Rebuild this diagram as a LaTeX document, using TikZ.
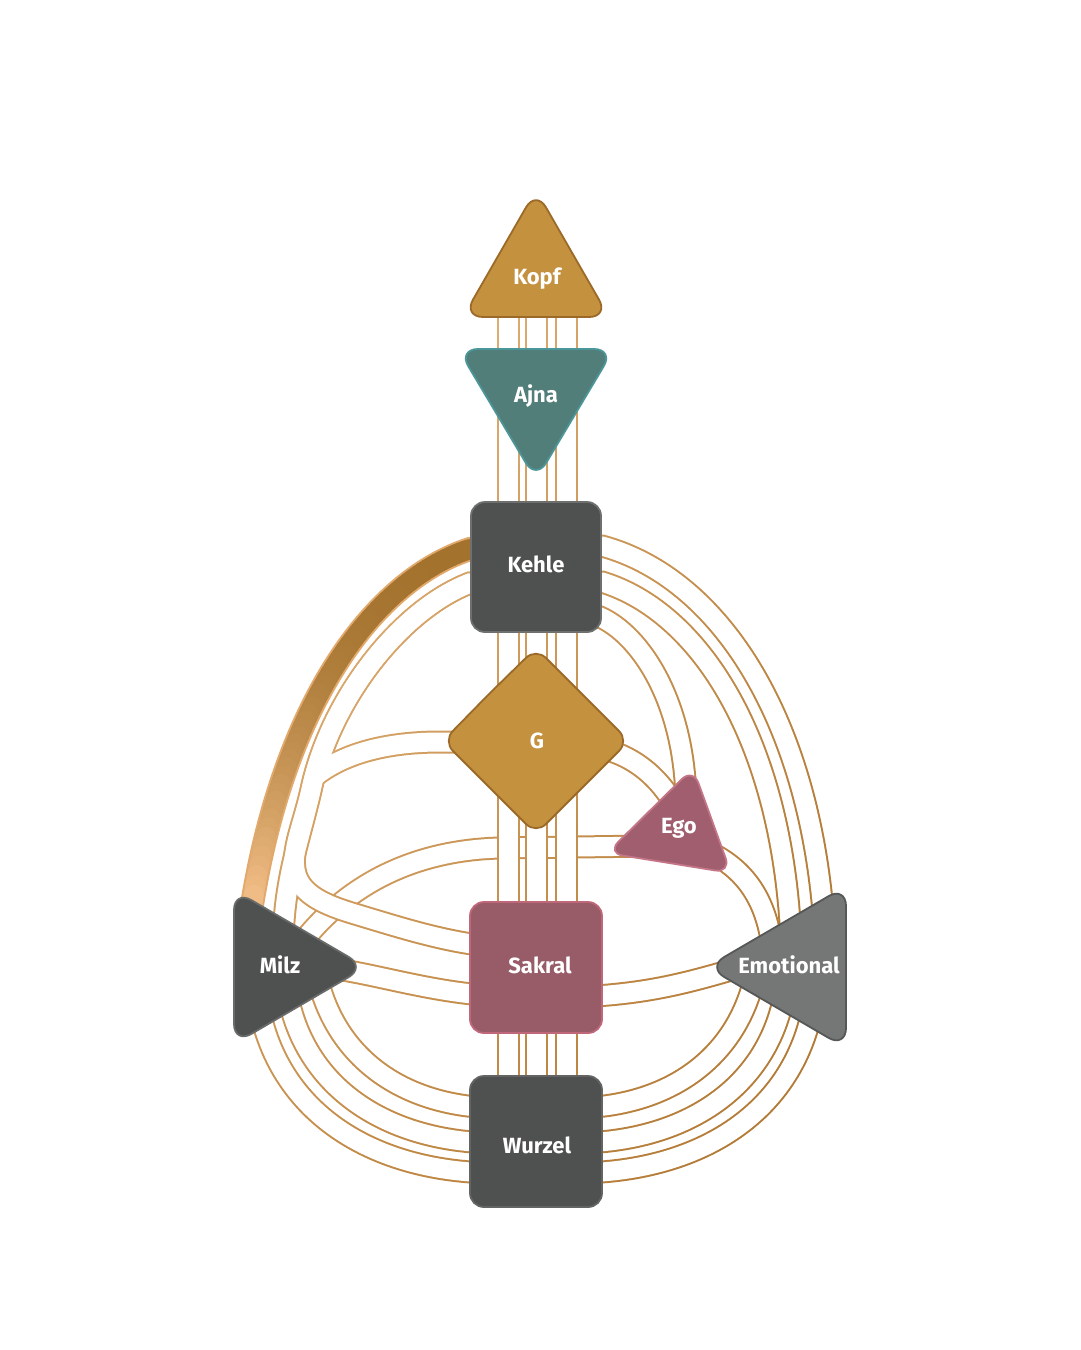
\documentclass[tikz,border=0pt]{standalone}
\usepackage{fontspec}
\usetikzlibrary{shadings}
\setmainfont{Fira Sans}
\definecolor{gUL}{HTML}{F6CB9A}
\definecolor{gUR}{HTML}{BE8642}
\definecolor{gLL}{HTML}{C48C48}
\definecolor{gLR}{HTML}{AC7430}
\definecolor{banddark}{HTML}{A3722D}
\definecolor{bandlight}{HTML}{F2BE87}
\definecolor{bandedge}{HTML}{E2A96C}
\definecolor{goldfill}{HTML}{C4913F}
\definecolor{goldedge}{HTML}{9B6A28}
\definecolor{ajnafill}{HTML}{527E7A}
\definecolor{ajnaedge}{HTML}{4C9598}
\definecolor{darkfill}{HTML}{4F5150}
\definecolor{darkedge}{HTML}{6E706F}
\definecolor{egofill}{HTML}{A05E6E}
\definecolor{egoedge}{HTML}{C47588}
\definecolor{sakfill}{HTML}{975C68}
\definecolor{sakedge}{HTML}{C0687A}
\definecolor{emofill}{HTML}{747776}
\definecolor{emoedge}{HTML}{555857}
\newcommand\chtube[1]{\draw[tubeout] #1; \draw[tubein] #1;}
\begin{document}
\begin{tikzpicture}[x=1pt,y=-1pt,
  tubeout/.style={draw=black,line width=23pt},
  tubein/.style={draw=white,line width=19pt},
  centre/.style={line width=1.8pt,rounded corners=14pt},
  lbl/.style={text=white,font=\bfseries\fontsize{22}{26}\selectfont,inner sep=0pt}]
\fill[white] (0,0) rectangle (1080,1350);
\useasboundingbox (0,0) rectangle (1080,1350);
% named centres
\coordinate (kopfc) at (536,278);
\coordinate (wurzelc) at (536,1142);
% ---------- Ego - Milz (lies under the integration channels)
\chtube{(650,846) -- (500,848) .. controls (420,850) and (350,880) .. (300,945)}
% ---------- integration channels (merged tubes)
\draw[tubeout] (495,583) -- (470,583) .. controls (400,610) and (330,700) .. (311,790) .. controls (300,840) and (285,875) .. (283,940);
\draw[tubeout] (495,583) -- (470,583) .. controls (400,610) and (330,700) .. (311,790) .. controls (302,828) and (290,852) .. (296,874) .. controls (302,895) and (325,905) .. (355,914) .. controls (405,929) and (445,942) .. (495,947);
\draw[tubeout] (470,742) -- (440,742) .. controls (390,742) and (345,752) .. (314,777);
\draw[tubein] (495,583) -- (470,583) .. controls (400,610) and (330,700) .. (311,790) .. controls (300,840) and (285,875) .. (283,940);
\draw[tubein] (495,583) -- (470,583) .. controls (400,610) and (330,700) .. (311,790) .. controls (302,828) and (290,852) .. (296,874) .. controls (302,895) and (325,905) .. (355,914) .. controls (405,929) and (445,942) .. (495,947);
\draw[tubein] (470,742) -- (440,742) .. controls (390,742) and (345,752) .. (314,777);
% ---------- Sakral - Milz
\chtube{(330,968) .. controls (380,975) and (430,992) .. (495,996)}
% ---------- Milz - Wurzel
\chtube{(256,985) .. controls (268,1110) and (370,1172) .. (495,1173)}
\chtube{(285,975) .. controls (295,1085) and (385,1142) .. (495,1143)}
\chtube{(315,965) .. controls (330,1055) and (400,1106) .. (495,1108)}
% ---------- Emotional - Wurzel
\chtube{(816,985) .. controls (804,1110) and (702,1172) .. (577,1173)}
\chtube{(787,975) .. controls (777,1085) and (687,1142) .. (577,1143)}
\chtube{(757,965) .. controls (742,1055) and (672,1106) .. (577,1108)}
% ---------- Sakral - Emotional
\chtube{(577,997) .. controls (650,994) and (690,982) .. (745,966)}
% ---------- Ego - Emotional
\chtube{(705,850) .. controls (745,868) and (768,900) .. (773,955)}
% ---------- G - Ego
\chtube{(600,748) .. controls (630,755) and (655,772) .. (675,805)}
% ---------- Kehle - Emotional / Ego
\chtube{(580,546) -- (602,546) .. controls (720,578) and (810,720) .. (824,925)}
\chtube{(580,582) -- (602,582) .. controls (700,612) and (782,740) .. (791,940)}
\chtube{(580,617) -- (600,617) .. controls (640,635) and (684,700) .. (686,800)}
% ---------- vertical channels
\chtube{([xshift=-27.5pt]kopfc) -- ([xshift=-27.5pt]wurzelc)}
\chtube{(kopfc) -- (wurzelc)}
\chtube{([xshift=30.5pt]kopfc) -- ([xshift=30.5pt]wurzelc)}
% ---------- colour the channel lines
\begin{scope}[blend mode=screen]
\shade[upper left=gUL,upper right=gUR,lower left=gLL,lower right=gLR] (225,290) rectangle (860,1220);
\end{scope}
% ---------- defined channel Kehle - Milz (gradient band)
\draw[draw=bandedge,line width=24pt] (495,549) -- (470,549) .. controls (375,580) and (285,700) .. (252,905) -- (250,925);
\draw[banddark,line width=20pt] (495,549) -- (470,549);
\foreach \i in {0,...,59} {
  \pgfmathsetmacro\ta{\i/60}
  \pgfmathsetmacro\tb{(\i+1)/60}
  \pgfmathsetmacro\xa{(1-\ta)^3*470+3*\ta*(1-\ta)^2*375+3*\ta^2*(1-\ta)*285+\ta^3*252}
  \pgfmathsetmacro\ya{(1-\ta)^3*549+3*\ta*(1-\ta)^2*580+3*\ta^2*(1-\ta)*700+\ta^3*905}
  \pgfmathsetmacro\xb{(1-\tb)^3*470+3*\tb*(1-\tb)^2*375+3*\tb^2*(1-\tb)*285+\tb^3*252}
  \pgfmathsetmacro\yb{(1-\tb)^3*549+3*\tb*(1-\tb)^2*580+3*\tb^2*(1-\tb)*700+\tb^3*905}
  \pgfmathsetmacro\mx{100*((\ta+\tb)/2)^3}
  \draw[line width=20pt,line cap=round,color=bandlight!\mx!banddark] (\xa,\ya) -- (\xb,\yb);
}
\draw[bandlight,line width=20pt] (252,905) -- (250,925);
% ---------- centres
\filldraw[centre,rounded corners=20pt,fill=goldfill,draw=goldedge] (536,317) -- (609,317) -- (536,190) -- (463,317) -- cycle;
\filldraw[centre,rounded corners=20pt,fill=ajnafill,draw=ajnaedge] (536,349) -- (614,349) -- (536,480) -- (458,349) -- cycle;
\filldraw[centre,fill=darkfill,draw=darkedge] (471,502) rectangle (601,632);
\filldraw[centre,fill=goldfill,draw=goldedge] (489,694) -- (536,648) -- (629,741) -- (536,834) -- (443,741) -- cycle;
\filldraw[centre,rounded corners=16pt,fill=egofill,draw=egoedge] (669,863) -- (607,853) -- (693,768) -- (731,873) -- cycle;
\filldraw[centre,fill=sakfill,draw=sakedge] (470,902) rectangle (602,1033);
\filldraw[centre,rounded corners=20pt,fill=darkfill,draw=darkfill!85!white] (234,967) -- (234,890) -- (366,967) -- (234,1044) -- cycle;
\filldraw[centre,rounded corners=20pt,fill=emofill,draw=emoedge] (846,967) -- (846,1048) -- (707,967) -- (846,886) -- cycle;
\filldraw[centre,fill=darkfill,draw=darkedge!90!black] (470,1076) rectangle (602,1207);
% ---------- labels
\node[lbl] (kopf) at (537,279) {Kopf};
\node[lbl] (ajna) at (536,396) {Ajna};
\node[lbl] (kehle) at (536,564) {Kehle};
\node[lbl] (g) at (537,741) {G};
\node[lbl] (ego) at (679,828) {Ego};
\node[lbl] (sakral) at (540,965) {Sakral};
\node[lbl] (milz) at (280,965) {Milz};
\node[lbl] (emotional) at (789,965) {Emotional};
\node[lbl] (wurzel) at (537,1145) {Wurzel};
\end{tikzpicture}
\end{document}
